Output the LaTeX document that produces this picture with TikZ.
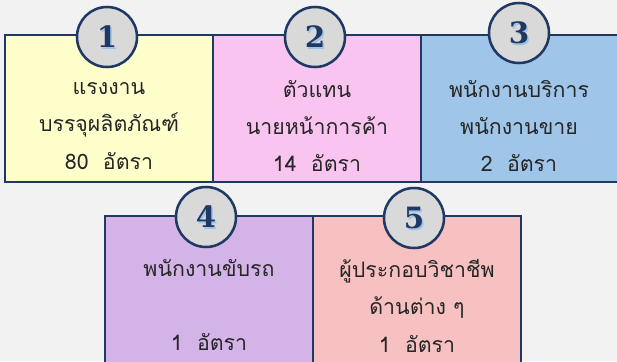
\documentclass[tikz,border=0pt]{standalone}
\usepackage{fontspec}
\newfontfamily\thaifont[Script=Thai]{Loma}
\newfontfamily\numfont{DejaVu Serif}
\definecolor{fondo}{HTML}{F2F2F2}
\definecolor{marino}{HTML}{1F3864}
\definecolor{sombra}{HTML}{9DC3E6}
\definecolor{amarillo}{HTML}{FFFFCC}
\definecolor{rosa}{HTML}{F9C5F0}
\definecolor{celeste}{HTML}{9FC5E8}
\definecolor{lila}{HTML}{D4B4E8}
\definecolor{salmon}{HTML}{F8C1C1}
\tikzset{
    caja/.style={draw=marino,line width=1.8pt},
    circulo/.style={circle,draw=marino,fill=black!15,line width=1.9pt,minimum size=45pt,inner sep=0pt},
    numero/.style={font=\numfont\bfseries\fontsize{22}{22}\selectfont,text=marino},
    texto/.style={align=center,font=\thaifont\fontsize{16}{28}\selectfont,text=black!85,inner sep=1pt}
}
\begin{document}
\begin{tikzpicture}[x=0.75pt,y=-0.75pt]
    \useasboundingbox (0,0) rectangle (617,361);
    \fill[fondo] (0,0) rectangle (617,361);
    \clip (0,0) rectangle (617,361);

    %Cajas
    \foreach \x/\y/\h/\c in {5/35/147/amarillo,213/35/147/rosa,421/35/147/celeste,105/216/160/lila,313/216/160/salmon}{
        \draw[caja,fill=\c] (\x,\y) rectangle +(208,\h);
    }

    %Circulos numerados
    \foreach \n/\x/\y in {1/107/37,2/315/37,3/519/33,4/206/217,5/414/218}{
        \node[circulo] (c\n) at (\x,\y) {};
        \node[numero,text=sombra] at ([shift={(1.6,1.6)}]c\n.center) {\n};
        \node[numero] (n\n) at (c\n.center) {\n};
    }

    %Textos
    \node[texto] (t1) at (109,126) {แรงงาน\\บรรจุผลิตภัณฑ์\\80\ \ อัตรา};
    \node[texto] (t2) at (317,126) {ตัวแทน\\นายหน้าการค้า\\14\ \ อัตรา};
    \node[texto] (t3) at (519,126) {พนักงานบริการ\\พนักงานขาย\\2\ \ อัตรา};
    \node[texto] (t4) at (209,305) {พนักงานขับรถ\\[28pt]1\ \ อัตรา};
    \node[texto] (t5) at (417,306) {ผู้ประกอบวิชาชีพ\\ด้านต่าง ๆ\\1\ \ อัตรา};
\end{tikzpicture}
\end{document}
